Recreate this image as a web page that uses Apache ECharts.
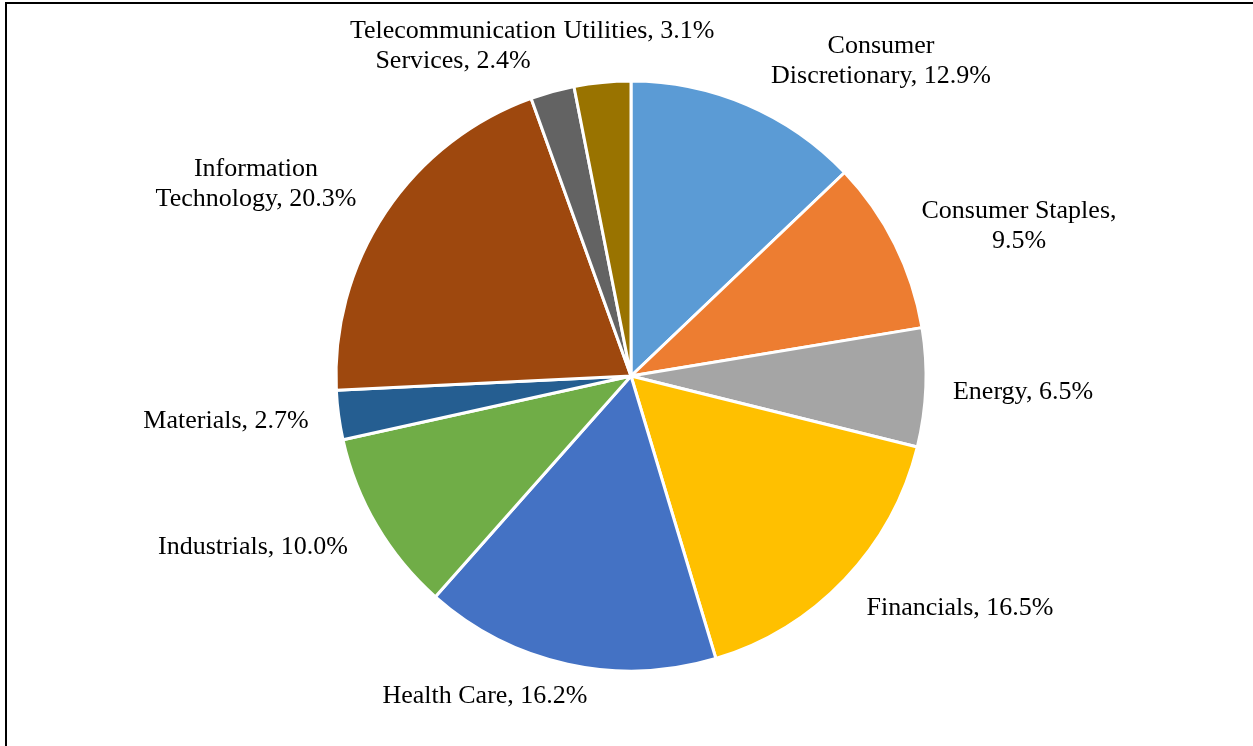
<!DOCTYPE html>
<html>
<head>
<meta charset="utf-8">
<script src="https://cdn.jsdelivr.net/npm/echarts@6/dist/echarts.min.js"></script>
<style>
  html, body { margin: 0; padding: 0; background: #ffffff; }
  #chart { width: 1253px; height: 746px; }
</style>
</head>
<body>
<div id="chart"></div>
<script>
// ---- data ----
const categories = [
  'Consumer Discretionary',
  'Consumer Staples',
  'Energy',
  'Financials',
  'Health Care',
  'Industrials',
  'Materials',
  'Information Technology',
  'Telecommunication Services',
  'Utilities'
];
const values = [12.9, 9.5, 6.5, 16.5, 16.2, 10.0, 2.7, 20.3, 2.4, 3.1];

// ---- presentation ----
const colors = ['#5B9BD5', '#ED7D31', '#A5A5A5', '#FFC000', '#4472C4',
                '#70AD47', '#255E91', '#9E480E', '#636363', '#997300'];
// number of words on the first line of each label (0 = single line)
const labelBreaks = [1, 2, 0, 0, 0, 0, 0, 1, 1, 0];
// label centres in pixels (text placement only)
const labelCenters = [[881, 61], [1019, 226], [1023, 392], [960, 608], [485, 696],
                      [253, 547], [226, 421], [256, 184], [453, 46], [639, 31]];

const chart = echarts.init(document.getElementById('chart'), null, { renderer: 'canvas' });

const option = {
  animation: false,
  backgroundColor: '#ffffff',
  graphic: [{
    type: 'rect',
    shape: { x: 6, y: 3, width: 1400, height: 900 },
    style: { fill: 'none', stroke: '#000000', lineWidth: 2 },
    silent: true,
    z: 100
  }],
  series: [{
    type: 'pie',
    center: [631, 376],
    radius: 295,
    startAngle: 90,
    clockwise: true,
    avoidLabelOverlap: false,
    data: categories.map((c, i) => ({ name: c, value: values[i], itemStyle: { color: colors[i] } })),
    itemStyle: { borderColor: '#ffffff', borderWidth: 3 },
    label: {
      show: true,
      position: 'outside',
      fontFamily: 'Liberation Serif, Times New Roman, serif',
      fontSize: 26,
      lineHeight: 30,
      color: '#000000',
      align: 'center',
      formatter: function (p) {
        const words = (p.name + ', ' + values[p.dataIndex].toFixed(1) + '%').split(' ');
        const n = labelBreaks[p.dataIndex];
        if (n > 0) {
          return words.slice(0, n).join(' ') + '\n' + words.slice(n).join(' ');
        }
        return words.join(' ');
      }
    },
    labelLine: { show: false },
    labelLayout: function (params) {
      const pos = labelCenters[params.dataIndex];
      return { x: pos[0], y: pos[1], align: 'center', verticalAlign: 'middle' };
    },
    emphasis: { disabled: true }
  }]
};

chart.setOption(option);
</script>
</body>
</html>
